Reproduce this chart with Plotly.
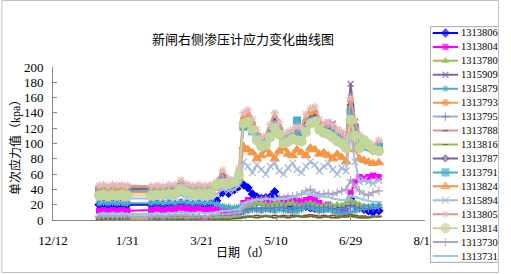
import plotly.graph_objects as go

dates = [
    "2012-01-12", "2012-01-15", "2012-01-18", "2012-01-21", "2012-01-24", "2012-01-27", "2012-01-29", "2012-01-31",
    "2012-02-16", "2012-02-20", "2012-02-24", "2012-02-28", "2012-03-03", "2012-03-07", "2012-03-11", "2012-03-15",
    "2012-03-19", "2012-03-23", "2012-03-27", "2012-03-31", "2012-04-04", "2012-04-08", "2012-04-12", "2012-04-15",
    "2012-04-18", "2012-04-21", "2012-04-24", "2012-04-27", "2012-04-30", "2012-05-03", "2012-05-06", "2012-05-09",
    "2012-05-12", "2012-05-15", "2012-05-18", "2012-05-21", "2012-05-24", "2012-05-27", "2012-05-30", "2012-06-02",
    "2012-06-05", "2012-06-08", "2012-06-11", "2012-06-14", "2012-06-17", "2012-06-20", "2012-06-23", "2012-06-26",
    "2012-06-29", "2012-07-02", "2012-07-05", "2012-07-08", "2012-07-11", "2012-07-14", "2012-07-18",
]

s1313806 = [20, 21, 20, 21, 20, 21, 20, 20,
            20, 21, 20, 21, 20, 22, 21, 20, 21, 20, 21, 25, 36, 35, 40, 44,
            46, 42, 34, 30, 28, 29, 30, 37, 26, 22, 20, 18, 16, 17, 18, 16, 15, 14, 15, 16, 14, 13, 15, 18, 28, 20, 16, 14, 12, 10, 12]
s1313804 = [12, 13, 12, 13, 12, 13, 12, 12,
            13, 14, 13, 14, 14, 16, 15, 14, 15, 13, 14, 15, 13, 12, 13, 14,
            22, 26, 25, 24, 26, 27, 25, 24, 26, 27, 28, 26, 25, 24, 26, 28, 26, 22, 18, 20, 16, 12, 8, 10, 35, 50, 56, 54, 56, 58, 56]
s1313780 = [2, 2, 3, 2, 2, 3, 2, 2,
            3, 3, 3, 4, 3, 4, 3, 3, 4, 3, 3, 4, 4, 5, 5, 6,
            12, 18, 20, 21, 22, 20, 19, 21, 22, 20, 21, 22, 20, 19, 21, 22, 20, 18, 19, 20, 18, 20, 19, 22, 26, 22, 20, 18, 17, 18, 19]
s1315909 = [40, 41, 40, 41, 40, 41, 40, 40,
            40, 41, 40, 41, 41, 46, 42, 41, 42, 41, 42, 46, 56, 50, 51, 60,
            128, 132, 122, 110, 102, 104, 116, 130, 120, 106, 110, 114, 116, 114, 126, 134, 132, 124, 126, 128, 126, 118, 112, 104, 178, 128, 106, 100, 96, 92, 96]
s1315879 = [22, 23, 22, 23, 22, 23, 22, 22,
            22, 23, 22, 23, 22, 24, 23, 22, 23, 22, 23, 21, 18, 17, 16, 17,
            10, 12, 14, 13, 12, 14, 13, 12, 14, 13, 12, 11, 12, 14, 18, 16, 14, 12, 13, 14, 12, 10, 9, 8, 10, 12, 14, 16, 17, 18, 20]
s1313793 = [43, 44, 42, 44, 43, 44, 42, 43,
            42, 43, 42, 44, 44, 49, 45, 43, 44, 43, 44, 48, 60, 51, 50, 64,
            132, 136, 126, 112, 102, 104, 118, 132, 120, 106, 108, 112, 116, 114, 130, 138, 140, 126, 118, 120, 118, 112, 108, 102, 156, 124, 106, 100, 96, 92, 100]
s1313795 = [4, 4, 5, 4, 4, 5, 4, 4,
            4, 5, 4, 5, 5, 6, 5, 5, 5, 4, 5, 6, 6, 6, 7, 8,
            12, 14, 15, 16, 15, 16, 15, 16, 17, 16, 15, 16, 17, 16, 18, 18, 17, 16, 16, 17, 15, 14, 14, 15, 18, 17, 16, 15, 15, 16, 16]
s1313788 = [1, 1, 2, 1, 1, 2, 1, 1,
            1, 2, 1, 2, 1, 2, 1, 1, 2, 1, 2, 1, 2, 2, 2, 3,
            4, 5, 5, 6, 5, 6, 5, 6, 5, 6, 5, 6, 6, 5, 6, 7, 6, 5, 6, 5, 6, 5, 5, 6, 7, 6, 5, 5, 4, 5, 5]
s1313816 = [0, 1, 0, 1, 0, 1, 0, 0,
            0, 1, 0, 1, 1, 1, 0, 1, 1, 0, 1, 1, 1, 1, 2, 2,
            3, 4, 4, 3, 4, 5, 4, 3, 4, 4, 3, 4, 5, 4, 4, 5, 4, 3, 4, 4, 3, 3, 4, 4, 5, 4, 3, 3, 3, 4, 4]
s1313787 = [41, 42, 41, 42, 41, 42, 41, 41,
            41, 42, 41, 42, 42, 47, 43, 42, 43, 42, 43, 47, 57, 51, 52, 61,
            125, 129, 120, 108, 100, 102, 114, 128, 118, 104, 108, 112, 114, 112, 124, 132, 134, 122, 120, 122, 120, 114, 110, 102, 150, 124, 104, 98, 94, 90, 94]
s1313791 = [38, 39, 37, 38, 38, 39, 37, 38,
            37, 38, 37, 38, 38, 42, 39, 38, 39, 38, 39, 44, 50, 48, 50, 56,
            122, 124, 116, 108, 100, 102, 112, 124, 116, 104, 106, 110, 130, 112, 118, 128, 130, 120, 116, 114, 112, 106, 104, 98, 142, 118, 102, 98, 96, 94, 96]
s1313824 = [36, 37, 36, 37, 36, 37, 36, 36,
            36, 37, 36, 37, 37, 42, 38, 37, 38, 37, 38, 42, 48, 45, 46, 54,
            96, 92, 88, 80, 84, 92, 86, 80, 90, 94, 86, 84, 92, 88, 84, 94, 92, 86, 88, 84, 80, 86, 82, 76, 122, 92, 80, 78, 76, 74, 75]
s1315894 = [28, 29, 28, 29, 28, 29, 28, 28,
            28, 29, 28, 29, 29, 33, 30, 29, 30, 29, 30, 34, 40, 38, 40, 45,
            76, 70, 62, 72, 66, 60, 70, 74, 64, 60, 68, 74, 66, 62, 70, 76, 72, 64, 70, 74, 66, 60, 68, 64, 114, 76, 50, 52, 50, 48, 52]
s1313805 = [45, 46, 44, 46, 45, 46, 44, 45,
            44, 45, 44, 46, 46, 52, 47, 45, 46, 45, 46, 50, 65, 54, 52, 68,
            140, 144, 132, 118, 108, 110, 125, 140, 128, 112, 115, 118, 122, 120, 138, 146, 148, 132, 125, 128, 124, 118, 115, 108, 160, 130, 112, 106, 102, 98, 104]
s1313814 = [32, 33, 31, 33, 32, 33, 31, 32,
            32, 33, 33, 34, 34, 40, 36, 34, 35, 34, 35, 46, 48, 47, 50, 59,
            126, 128, 118, 104, 96, 98, 108, 120, 112, 100, 102, 106, 104, 103, 115, 126, 128, 118, 114, 112, 108, 103, 100, 94, 131, 110, 94, 104, 98, 92, 90]
s1313730 = [5, 6, 5, 6, 5, 6, 5, 5,
            5, 6, 5, 6, 6, 7, 6, 6, 6, 5, 6, 7, 8, 8, 9, 10,
            18, 22, 24, 26, 27, 28, 27, 28, 29, 28, 30, 31, 32, 34, 38, 40, 36, 33, 34, 35, 33, 36, 38, 40, 52, 44, 38, 34, 32, 36, 38]
s1313731 = [8, 9, 8, 9, 8, 9, 8, 8,
            8, 9, 8, 9, 9, 10, 9, 9, 10, 9, 9, 10, 12, 12, 13, 14,
            22, 24, 26, 27, 26, 28, 27, 26, 28, 27, 28, 30, 32, 34, 35, 34, 32, 30, 31, 30, 28, 27, 26, 26, 32, 30, 28, 26, 25, 24, 24]

series_names = ["1313806", "1313804", "1313780", "1315909", "1315879", "1313793", "1313795", "1313788",
                "1313816", "1313787", "1313791", "1313824", "1315894", "1313805", "1313814", "1313730", "1313731"]
series_values = [s1313806, s1313804, s1313780, s1315909, s1315879, s1313793, s1313795, s1313788,
                 s1313816, s1313787, s1313791, s1313824, s1315894, s1313805, s1313814, s1313730, s1313731]

# style: line colour, marker symbol, marker fill, marker size, marker outline colour
styles = [
    ("#0000FF", "diamond", "#0000FF", 6, "#0000FF"),
    ("#FF00FF", "square", "#FF00FF", 5, "#FF00FF"),
    ("#9BBB59", "triangle-up", "#9BBB59", 6, "#9BBB59"),
    ("#8064A2", "x-thin-open", "#8064A2", 6, "#8064A2"),
    ("#4BACC6", "asterisk-open", "#4BACC6", 6, "#4BACC6"),
    ("#F79646", "circle", "#F79646", 6, "#F79646"),
    ("#95B3D7", "cross-thin-open", "#4F81BD", 6, "#4F81BD"),
    ("#D99694", "line-ew-open", "#953735", 4, "#953735"),
    ("#9BBB59", "line-ew-open", "#4F6228", 4, "#4F6228"),
    ("#8064A2", "diamond", "#B3A2C7", 5, "#604A7B"),
    ("#4BACC6", "square", "#4BACC6", 7, "#4BACC6"),
    ("#F79646", "triangle-up", "#F79646", 8, "#F79646"),
    ("#A6B9DE", "x-thin-open", "#A6B9DE", 7, "#A6B9DE"),
    ("#D99694", "asterisk-open", "#E6B9B8", 7, "#D99694"),
    ("#C3D69B", "circle", "#C3D69B", 9, "#C3D69B"),
    ("#B3A2C7", "cross-thin-open", "#B3A2C7", 6, "#B3A2C7"),
    ("#93CDDD", "line-ew-open", "#93CDDD", 4, "#93CDDD"),
]

W, H = 511, 274
ML, MR, MT, MB = 53, 1, 26, 11
PW, PH = W - ML - MR, H - MT - MB


def fx(px):
    return (px - ML) / PW


def fy(py):
    return (H - MB - py) / PH


fig = go.Figure()
serif = "Liberation Serif, Noto Sans CJK SC"

for name, vals, st in zip(series_names, series_values, styles):
    lc, sym, mc, ms, mlc = st
    fig.add_trace(go.Scatter(
        x=dates, y=vals, name=name, mode="lines+markers",
        line=dict(color=lc, width=2),
        marker=dict(symbol=sym, color=mc, size=ms, line=dict(color=mlc, width=1.2)),
        showlegend=False, xaxis="x", yaxis="y",
    ))

# hand-built legend (fixed-row spacing like the original)
for i, (name, st) in enumerate(zip(series_names, styles)):
    lc, sym, mc, ms, mlc = st
    fig.add_trace(go.Scatter(
        x=[3, 16, 29], y=[i, i, i], mode="lines+markers",
        line=dict(color=lc, width=2),
        marker=dict(symbol=sym, color=mc, size=[0, ms, 0], line=dict(color=mlc, width=1.2)),
        showlegend=False, hoverinfo="skip", xaxis="x2", yaxis="y2",
    ))
    fig.add_annotation(x=29.5, y=i, xref="x2", yref="y2", text=name, showarrow=False,
                       xanchor="left", yanchor="middle",
                       font=dict(family=serif, size=10.5, color="black"))

axis_col = "#868686"
fig.update_layout(
    width=W, height=H,
    margin=dict(l=ML, r=MR, t=MT, b=MB),
    paper_bgcolor="white", plot_bgcolor="white",
    xaxis=dict(
        type="date", domain=[0, fx(435)], anchor="y",
        range=["2011-12-12", "2012-08-18"],
        tick0="2011-12-12", dtick=50 * 86400000, tickformat="%-m/%-d",
        ticks="inside", ticklen=4, tickcolor=axis_col,
        showline=True, linecolor=axis_col, linewidth=1,
        showgrid=False, zeroline=False,
        tickfont=dict(family=serif, size=13, color="black"),
        ticklabelstandoff=8,
    ),
    yaxis=dict(
        domain=[fy(220), fy(67)], anchor="x",
        range=[0, 200], dtick=20,
        ticks="inside", ticklen=4, tickcolor=axis_col,
        showline=True, linecolor=axis_col, linewidth=1,
        showgrid=False, zeroline=False,
        tickfont=dict(family=serif, size=13, color="black"),
        ticklabelstandoff=6,
    ),
    xaxis2=dict(domain=[fx(440), 1], anchor="y2", range=[0, 70], visible=False, fixedrange=True),
    yaxis2=dict(domain=[0, 1], anchor="x2", range=[16.5, -0.5], visible=False, fixedrange=True),
)

# legend frame (drawn in the legend subplot so it covers the cut last date label)
fig.add_shape(type="rect", xref="x2", yref="y2", x0=0.5, x1=72, y0=16.45, y1=-0.45,
              line=dict(color="#A6A6A6", width=1), fillcolor="white", layer="below")
# outer chart frame
fig.add_shape(type="rect", xref="paper", yref="paper",
              x0=fx(0.5), x1=fx(510.5), y0=fy(272.5), y1=fy(0.5),
              line=dict(color="#BFBFBF", width=1), layer="above")

fig.add_annotation(x=fx(248), y=fy(40), xref="paper", yref="paper", text="新闸右侧渗压计应力变化曲线图",
                   showarrow=False, xanchor="center", yanchor="middle",
                   font=dict(family=serif, size=13, color="black"))
fig.add_annotation(x=fx(248), y=fy(253), xref="paper", yref="paper", text="日期（d）",
                   showarrow=False, xanchor="center", yanchor="middle",
                   font=dict(family=serif, size=12, color="black"))
fig.add_annotation(x=fx(14), y=fy(145), xref="paper", yref="paper", text="单次应力值（kpa）",
                   showarrow=False, xanchor="center", yanchor="middle", textangle=-90,
                   font=dict(family=serif, size=12, color="black"))

fig.write_html("out.html", config={"displayModeBar": False},
               post_script="document.body.style.margin='0';document.body.style.overflow='hidden';")
